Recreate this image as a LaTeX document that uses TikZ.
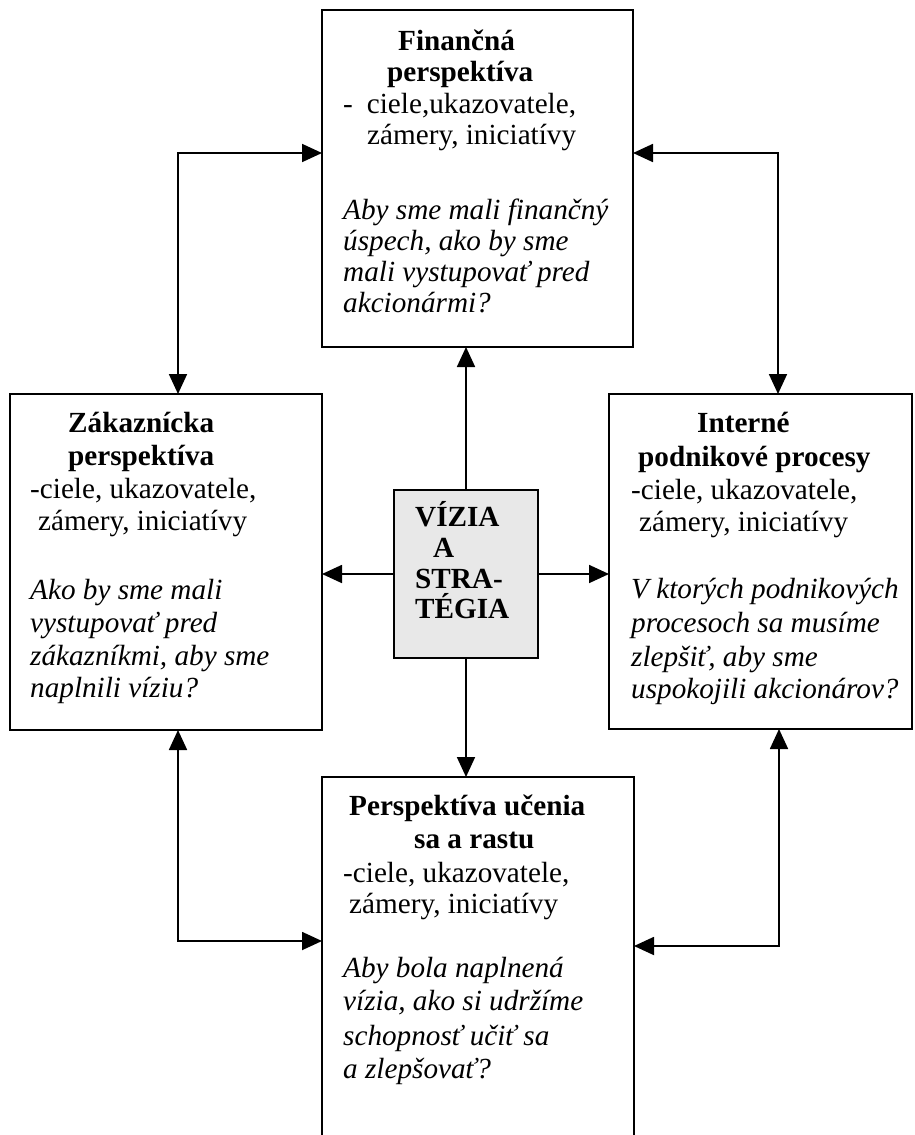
\documentclass[tikz,border=0pt]{standalone}
\usepackage{fontspec}
\setmainfont{Liberation Serif}
\usetikzlibrary{arrows.meta}
\definecolor{vizgray}{HTML}{E8E8E8}
\tikzset{
  boxnode/.style={draw=black, line width=1.8pt, fill=white, inner sep=0pt, outer sep=0pt, rectangle},
  conn/.style={line width=1.8pt, -{Triangle[length=20pt,width=18pt]}},
  bconn/.style={line width=1.8pt, {Triangle[length=20pt,width=18pt]}-{Triangle[length=20pt,width=18pt]}},
  tn/.style={anchor=base west, inner sep=0pt, font=\fontsize{29.2}{31}\selectfont},
  tb/.style={tn, font=\fontsize{29.2}{31}\selectfont\bfseries},
  ti/.style={tn, font=\fontsize{29.2}{31}\selectfont\itshape},
}
\begin{document}
\begin{tikzpicture}[x=1pt,y=-1pt]
\useasboundingbox (0,0) rectangle (914,1135);
\clip (0,0) rectangle (914,1135);
\fill[white] (0,0) rectangle (914,1135);

% boxes
\node[boxnode, minimum width=311pt, minimum height=337pt] (fin) at (477.5,178.5) {};
\node[boxnode, minimum width=312pt, minimum height=336pt] (zak) at (166,562) {};
\node[boxnode, minimum width=303pt, minimum height=335pt] (int) at (760.5,561.5) {};
\node[boxnode, fill=vizgray, minimum width=144pt, minimum height=168pt] (viz) at (466,574) {};
\node[boxnode, minimum width=312pt, minimum height=383pt] (uc) at (478,968.5) {};

% centre arrows
\draw[conn] (viz.north) -- (viz.north |- fin.south);
\draw[conn] (viz.south) -- (viz.south |- uc.north);
\draw[conn] (viz.west) -- (viz.west -| zak.east);
\draw[conn] (viz.east) -- (viz.east -| int.west);

% corner connectors
\coordinate (tl) at (178,153);
\coordinate (tr) at (778,153);
\coordinate (bl) at (178,941);
\coordinate (br) at (779,946);
\draw[bconn] (tl -| fin.west) -- (tl) -- (tl |- zak.north);
\draw[bconn] (tr -| fin.east) -- (tr) -- (tr |- int.north);
\draw[bconn] (bl |- zak.south) -- (bl) -- (bl -| uc.west);
\draw[bconn] (br |- int.south) -- (br) -- (br -| uc.east);

% Financna perspektiva
\node[tb] (f1) at (398,50) {Finančná};
\node[tb] (f2) at (387,81) {perspektíva};
\node[tn] (f3) at (343,113) {-\hspace{14pt}ciele,ukazovatele,};
\node[tn] (f4) at (367,144) {zámery, iniciatívy};
\node[ti] (f5) at (343,219) {Aby sme mali finančný};
\node[ti] (f6) at (343,250) {úspech, ako by sme};
\node[ti] (f7) at (343,281) {mali vystupovať pred};
\node[ti] (f8) at (343,312) {akcionármi?};

% Zakaznicka perspektiva
\node[tb] (z1) at (68,432) {Zákaznícka};
\node[tb] (z2) at (68,465) {perspektíva};
\node[tn] (z3) at (30,498) {-ciele, ukazovatele,};
\node[tn] (z4) at (38,530) {zámery, iniciatívy};
\node[ti] (z5) at (30,599) {Ako by sme mali};
\node[ti] (z6) at (30,632) {vystupovať pred};
\node[ti] (z7) at (30,665) {zákazníkmi, aby sme};
\node[ti] (z8) at (30,697) {naplnili víziu?};

% Interne podnikove procesy
\node[tb] (i1) at (697,432) {Interné};
\node[tb] (i2) at (638,466) {podnikové procesy};
\node[tn] (i3) at (631,499) {-ciele, ukazovatele,};
\node[tn] (i4) at (639,531) {zámery, iniciatívy};
\node[ti] (i5) at (631,598) {V ktorých podnikových};
\node[ti] (i6) at (631,632) {procesoch sa musíme};
\node[ti] (i7) at (631,666) {zlepšiť, aby sme};
\node[ti] (i8) at (631,698) {uspokojili akcionárov?};

% Vizia a strategia
\node[tb] (v1) at (415,526) {VÍZIA};
\node[tb] (v2) at (433,557) {A};
\node[tb] (v3) at (415,588) {STRA-};
\node[tb] (v4) at (415,618) {TÉGIA};

% Perspektiva ucenia sa a rastu
\node[tb] (u1) at (349,815) {Perspektíva učenia};
\node[tb] (u2) at (414,848) {sa a rastu};
\node[tn] (u3) at (343,882) {-ciele, ukazovatele,};
\node[tn] (u4) at (349,913) {zámery, iniciatívy};
\node[ti] (u5) at (343,977) {Aby bola naplnená};
\node[ti] (u6) at (343,1010) {vízia, ako si udržíme};
\node[ti] (u7) at (343,1045) {schopnosť učiť sa};
\node[ti] (u8) at (343,1078) {a zlepšovať?};
\end{tikzpicture}
\end{document}
